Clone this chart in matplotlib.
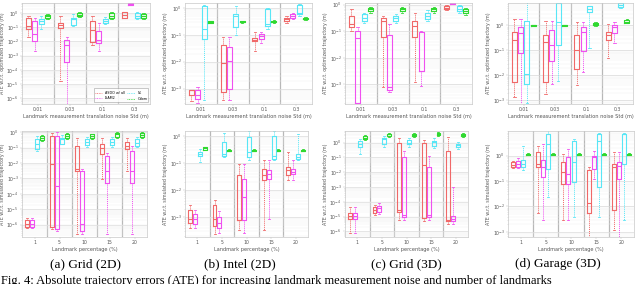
import matplotlib
matplotlib.use("Agg")
import matplotlib.pyplot as plt
import numpy as np

# ---------------- data (log10 of ATE): [whislo, q1, median, q3, whishi] per group ----------------
noise_labels = ["0.01", "0.03", "0.1", "0.3"]
pct_labels = ["1", "5", "10", "15", "20"]
series_names = ["ASDO w/ all", "iSAM2", r"$N_L$", "Odom"]

# (a) Grid 2D - top
a_top_red = [[-1.7, -1.14, -0.9, -0.34, -0.23], [-4.8, -1.09, -0.86, -0.68, -0.23],
             [-2.27, -2.05, -1.18, -0.57, -0.23], [-0.34, -0.34, -0.11, 0.05, 0.1]]
a_top_mag = [[-2.7, -2.0, -1.48, -0.57, -0.34], [-6.5, -3.45, -2.27, -1.93, -1.7],
             [-2.7, -2.09, -1.93, -1.25, -0.68], [0.55, 0.57, 0.62, 0.7, 0.75]]
a_top_cyan = [[-1.1, -0.8, -0.6, -0.45, -0.2], [-0.9, -0.86, -0.45, -0.34, -0.1],
              [-0.8, -0.68, -0.57, -0.45, -0.3], [-0.45, -0.34, -0.23, 0.0, 0.05]]
a_top_green = [[-0.4, -0.34, -0.23, -0.11, -0.05], [-0.3, -0.23, -0.11, 0.0, 0.08],
               [-0.4, -0.34, -0.18, 0.0, 0.08], [-0.4, -0.34, -0.23, -0.07, 0.0]]
# (a) Grid 2D - bottom
a_bot_red = [[-6.2, -6.17, -5.96, -5.7, -5.55], [-6.3, -6.17, -2.09, -0.26, -0.05],
             [-6.6, -2.5, -2.4, -0.9, -0.4], [-3.05, -1.44, -1.0, -0.8, -0.37],
             [-2.5, -1.12, -0.9, -0.62, -0.37]]
a_bot_mag = [[-6.2, -6.17, -5.96, -5.7, -5.55], [-6.4, -6.3, -3.48, -0.26, 0.0],
             [-6.6, -6.4, -5.96, -2.5, -2.4], [-6.6, -3.27, -2.5, -1.55, -1.35],
             [-6.6, -3.27, -2.5, -1.22, -0.9]]
a_bot_cyan = [[-1.2, -1.12, -0.8, -0.47, -0.26], [-0.8, -0.75, -0.47, -0.37, -0.2],
              [-0.95, -0.84, -0.65, -0.47, -0.35], [-0.95, -0.84, -0.65, -0.47, -0.3],
              [-0.95, -0.9, -0.7, -0.47, -0.3]]
a_bot_green = [[-0.6, -0.54, -0.41, -0.26, -0.2], [-0.45, -0.37, -0.26, -0.1, -0.05],
               [-0.45, -0.41, -0.26, -0.15, -0.1], [-0.4, -0.33, -0.15, -0.05, 0.0],
               [-0.4, -0.33, -0.2, -0.05, 0.0]]
# (b) Intel 2D - top
b_top_red = [[-3.45, -3.24, -3.04, -3.04, -3.04], [-3.42, -3.12, -2.04, -1.38, -1.08],
             [-1.62, -1.24, -1.18, -1.12, -0.9], [-0.55, -0.48, -0.42, -0.36, -0.3]]
b_top_mag = [[-3.55, -3.4, -3.24, -3.04, -2.95], [-3.42, -3.0, -1.98, -1.44, -1.08],
             [-1.32, -1.16, -1.06, -0.98, -0.9], [-0.42, -0.36, -0.3, -0.24, -0.18]]
b_top_cyan = [[-3.42, -1.14, -0.78, 0.06, 0.1], [-1.02, -0.72, -0.3, -0.24, 0.06],
              [-0.8, -0.66, -0.6, -0.06, 0.0], [-0.3, -0.24, -0.18, 0.12, 0.15]]
b_top_green = [[-0.58, -0.56, -0.54, -0.5, -0.48], [-0.56, -0.54, -0.52, -0.5, -0.48],
               [-0.56, -0.54, -0.52, -0.48, -0.46], [-0.46, -0.42, -0.4, -0.36, -0.34]]
# (b) Intel 2D - bottom
b_bot_red = [[-3.4, -3.23, -3.1, -2.74, -2.56], [-3.65, -3.35, -3.08, -2.56, -2.38],
             [-3.5, -3.11, -3.11, -1.46, -1.05], [-3.5, -1.65, -1.46, -1.22, -0.9],
             [-1.65, -1.46, -1.28, -1.16, -0.61]]
b_bot_mag = [[-3.4, -3.26, -3.1, -2.9, -2.75], [-3.6, -3.41, -3.23, -2.99, -2.8],
             [-3.6, -3.11, -2.26, -1.59, -1.05], [-3.1, -1.59, -1.4, -1.28, -0.9],
             [-1.65, -1.4, -1.34, -1.22, -0.9]]
b_bot_cyan = [[-0.98, -0.73, -0.67, -0.59, -0.49], [-0.79, -0.73, -0.67, -0.24, 0.12],
              [-0.91, -0.79, -0.61, -0.06, 0.18], [-0.91, -0.85, -0.73, 0.0, 0.18],
              [-0.91, -0.85, -0.79, -0.67, 0.06]]
b_bot_green = [[-0.54, -0.51, -0.46, -0.43, -0.4], [-0.57, -0.55, -0.55, -0.52, -0.5],
               [-0.57, -0.55, -0.55, -0.52, -0.5], [-0.57, -0.55, -0.55, -0.52, -0.5],
               [-0.57, -0.55, -0.55, -0.52, -0.5]]
# (c) Grid 3D - top
c_top_red = [[-0.98, -0.85, -0.73, -0.43, -0.18], [-3.11, -1.22, -0.61, -0.49, -0.43],
             [-2.93, -1.22, -0.82, -0.61, -0.3], [-0.22, -0.16, -0.12, -0.06, 0.0]]
c_top_mag = [[-3.85, -3.7, -1.26, -0.98, -0.85], [-3.29, -3.23, -3.11, -1.16, -0.73],
             [-3.05, -2.5, -2.5, -1.04, -0.98], [0.02, 0.04, 0.06, 0.1, 0.12]]
c_top_cyan = [[-0.7, -0.61, -0.49, -0.37, -0.3], [-0.7, -0.61, -0.51, -0.43, -0.35],
              [-0.6, -0.55, -0.43, -0.3, -0.22], [-0.3, -0.24, -0.16, -0.06, 0.0]]
c_top_green = [[-0.3, -0.24, -0.18, -0.12, -0.08], [-0.3, -0.24, -0.18, -0.12, -0.08],
               [-0.3, -0.24, -0.18, -0.12, -0.08], [-0.4, -0.33, -0.24, -0.18, -0.12]]
# (c) Grid 3D - bottom
c_bot_red = [[-6.1, -5.18, -4.96, -4.73, -4.33], [-4.9, -4.78, -4.56, -4.38, -4.2],
             [-5.2, -4.67, -4.56, 0.0, 0.33], [-5.3, -5.1, -1.55, 0.0, 0.2],
             [-5.5, -5.33, -5.22, -0.55, 0.4]]
c_bot_mag = [[-6.1, -5.18, -4.96, -4.73, -4.33], [-4.8, -4.67, -4.45, -4.29, -4.1],
             [-5.2, -5.0, -4.89, -1.0, -0.6], [-5.2, -5.0, -4.89, -1.67, -0.9],
             [-5.5, -5.33, -5.15, -4.96, -3.0]]
c_bot_cyan = [[-0.78, -0.33, -0.11, 0.11, 0.22], [-0.3, -0.11, 0.22, 0.33, 0.44],
              [-0.3, -0.11, 0.0, 0.15, 0.3], [-0.4, -0.22, 0.05, 0.11, 0.3],
              [-0.45, -0.29, -0.15, -0.07, 0.05]]
c_bot_green = [[0.15, 0.22, 0.33, 0.44, 0.5], [0.38, 0.44, 0.55, 0.6, 0.65],
               [0.4, 0.44, 0.51, 0.6, 0.65], [0.45, 0.51, 0.6, 0.67, 0.72],
               [0.4, 0.44, 0.51, 0.6, 0.65]]
# (d) Garage 3D - top
d_top_red = [[-2.86, -2.27, -0.58, -0.26, 0.26], [-2.73, -2.27, -0.65, -0.39, 0.19],
             [-2.4, -1.75, -0.97, -0.39, 0.13], [-1.3, -0.58, -0.39, -0.26, 0.06]]
d_top_mag = [[-3.25, -1.1, -0.32, -0.06, 0.26], [-2.34, -1.43, -0.78, -0.19, 0.19],
             [-1.88, -1.04, -0.26, -0.06, 0.13], [-0.71, -0.32, -0.06, 0.0, 0.13]]
d_top_cyan = [[-3.12, -2.34, -1.95, 0.19, 0.95], [-2.21, -0.78, 0.13, 0.9, 0.95],
              [-0.91, 0.52, 0.65, 0.78, 0.78], [0.7, 0.75, 0.8, 0.9, 0.95]]
d_top_green = [[-0.03, -0.02, 0.0, 0.02, 0.03], [-0.03, -0.02, 0.0, 0.02, 0.03],
               [-0.03, 0.0, 0.05, 0.1, 0.12], [0.08, 0.1, 0.13, 0.2, 0.25]]
# (d) Garage 3D - bottom
d_bot_red = [[-0.5, -0.45, -0.35, -0.26, -0.2], [-2.27, -0.45, -0.32, 0.13, 0.39],
             [-2.53, -1.1, -0.65, -0.26, 0.06], [-3.2, -2.27, -1.88, -0.58, -0.45],
             [-2.92, -2.14, -0.45, -0.32, 0.13]]
d_bot_mag = [[-0.5, -0.43, -0.32, -0.22, -0.1], [-2.53, -0.84, -0.45, -0.19, 0.45],
             [-2.53, -1.1, -0.71, -0.06, 0.26], [-0.91, -0.52, -0.06, 0.0, 0.19],
             [-3.2, -0.9, -0.39, -0.26, 0.13]]
d_bot_cyan = [[-0.58, -0.45, -0.32, -0.17, 0.39], [-1.62, -0.52, 0.45, 0.84, 1.1],
              [-2.4, -1.04, -0.26, 0.58, 0.65], [-2.4, -1.23, 0.58, 0.84, 0.91],
              [-2.53, -0.32, 0.84, 0.84, 0.91]]
d_bot_green = [[0.02, 0.04, 0.06, 0.08, 0.1], [0.02, 0.04, 0.06, 0.08, 0.1],
               [0.02, 0.04, 0.06, 0.08, 0.1], [0.02, 0.04, 0.06, 0.08, 0.1],
               [0.02, 0.04, 0.06, 0.08, 0.1]]

# y-limits (log10) per panel
a_top_ylim = (-6.4, 0.7); a_bot_ylim = (-6.8, 0.07)
b_top_ylim = (-3.57, 0.18); b_bot_ylim = (-3.75, 0.18)
c_top_ylim = (-3.74, 0.06); c_bot_ylim = (-6.38, 0.78)
d_top_ylim = (-3.14, 0.9); d_bot_ylim = (-3.2, 0.97)

colors = ["#f06868", "#f050f0", "#58e6f6", "#30d830"]
TOP_YLABEL = "ATE w.r.t. optimized trajectory (m)"
BOT_YLABEL = "ATE w.r.t. simulated trajectory (m)"
TOP_XLABEL = "Landmark measurement translation noise Std (m)"
BOT_XLABEL = "Landmark percentage (%)"

fig = plt.figure(figsize=(6.4, 2.84), dpi=100)
W, H = 640.0, 284.0

def make_ax(x0, x1, y0, y1):
    return fig.add_axes([x0 / W, 1 - y1 / H, (x1 - x0) / W, (y1 - y0) / H])

def draw_panel(ax, series, labels, ylim, xlabel, ylabel, legend=False):
    ngroups = len(labels)
    offsets = [-0.3, -0.1, 0.1, 0.3]
    for s, (data, col) in enumerate(zip(series, colors)):
        stats = []
        for g, v in enumerate(data):
            lo, q1, med, q3, hi = [10.0 ** x for x in v]
            stats.append(dict(med=med, q1=q1, q3=q3, whislo=lo, whishi=hi, fliers=[]))
        pos = [g + 1 + offsets[s] for g in range(ngroups)]
        ax.bxp(stats, positions=pos, widths=0.16, showfliers=False, manage_ticks=False,
               boxprops=dict(color=col, lw=0.8),
               medianprops=dict(color=col, lw=0.8),
               whiskerprops=dict(color=col, lw=0.7, ls=(0, (1, 1))),
               capprops=dict(color=col, lw=0.6))
        if legend:
            ax.plot([], [], color=col, lw=0.6, ls=(0, (1, 1)), label=series_names[s])
    ax.set_yscale("log")
    ax.set_ylim(10.0 ** ylim[0], 10.0 ** ylim[1])
    ax.set_xlim(0.5, ngroups + 0.5)
    ax.set_xticks(range(1, ngroups + 1))
    ax.set_xticklabels(labels)
    for b in range(1, ngroups):
        ax.axvline(b + 0.5, color="#b8b8b8", lw=0.9, zorder=0)
    ax.grid(True, axis="y", which="major", color="#d8d8d8", lw=0.5)
    ax.grid(True, axis="y", which="minor", color="#eeeeee", lw=0.3)
    ax.set_axisbelow(True)
    for sp in ax.spines.values():
        sp.set_color("#c8c8c8")
        sp.set_linewidth(0.5)
    ax.tick_params(axis="both", which="both", labelsize=3.3, length=1.2, width=0.3,
                   colors="#bbbbbb", labelcolor="#555555", pad=1)
    ax.tick_params(axis="y", which="minor", length=0.7)
    ax.set_xlabel(xlabel, fontsize=3.6, color="#555555", labelpad=1.5)
    ax.set_ylabel(ylabel, fontsize=3.4, color="#555555", labelpad=1.0)
    if legend:
        ax.legend(loc="lower right", ncol=2, fontsize=2.4, frameon=True, edgecolor="#888888",
                  fancybox=False, handlelength=2.2, borderpad=0.3, labelspacing=0.2,
                  columnspacing=0.8).get_frame().set_linewidth(0.4)

panels = [
    ((22, 150, 3, 104), [a_top_red, a_top_mag, a_top_cyan, a_top_green], noise_labels, a_top_ylim, True),
    ((185, 312, 3, 104), [b_top_red, b_top_mag, b_top_cyan, b_top_green], noise_labels, b_top_ylim, False),
    ((345, 472, 3, 104), [c_top_red, c_top_mag, c_top_cyan, c_top_green], noise_labels, c_top_ylim, False),
    ((508, 633, 3, 104), [d_top_red, d_top_mag, d_top_cyan, d_top_green], noise_labels, d_top_ylim, False),
]
for (x0, x1, y0, y1), ser, labs, yl, leg in panels:
    ax = make_ax(x0, x1, y0, y1)
    draw_panel(ax, ser, labs, yl, TOP_XLABEL, TOP_YLABEL, legend=leg)

bpanels = [
    ((22, 147, 131, 237), [a_bot_red, a_bot_mag, a_bot_cyan, a_bot_green], a_bot_ylim),
    ((185, 308, 131, 237), [b_bot_red, b_bot_mag, b_bot_cyan, b_bot_green], b_bot_ylim),
    ((345, 468, 131, 237), [c_bot_red, c_bot_mag, c_bot_cyan, c_bot_green], c_bot_ylim),
    ((508, 634, 131, 237), [d_bot_red, d_bot_mag, d_bot_cyan, d_bot_green], d_bot_ylim),
]
for (x0, x1, y0, y1), ser, yl in bpanels:
    ax = make_ax(x0, x1, y0, y1)
    draw_panel(ax, ser, pct_labels, yl, BOT_XLABEL, BOT_YLABEL)

captions = ["(a) Grid (2D)", "(b) Intel (2D)", "(c) Grid (3D)", "(d) Garage (3D)"]
cap_x = [85, 240, 406, 558]
for t, x in zip(captions, cap_x):
    fig.text(x / W, 1 - 264 / H, t, ha="center", va="center", fontsize=9.5,
             family="Liberation Serif")
fig.text(1 / W, 1 - 281 / H,
         "Fig. 4: Absolute trajectory errors (ATE) for increasing landmark measurement noise and number of landmarks",
         ha="left", va="center", fontsize=9.0, family="Liberation Serif")

fig.savefig("out.png", dpi=100)
